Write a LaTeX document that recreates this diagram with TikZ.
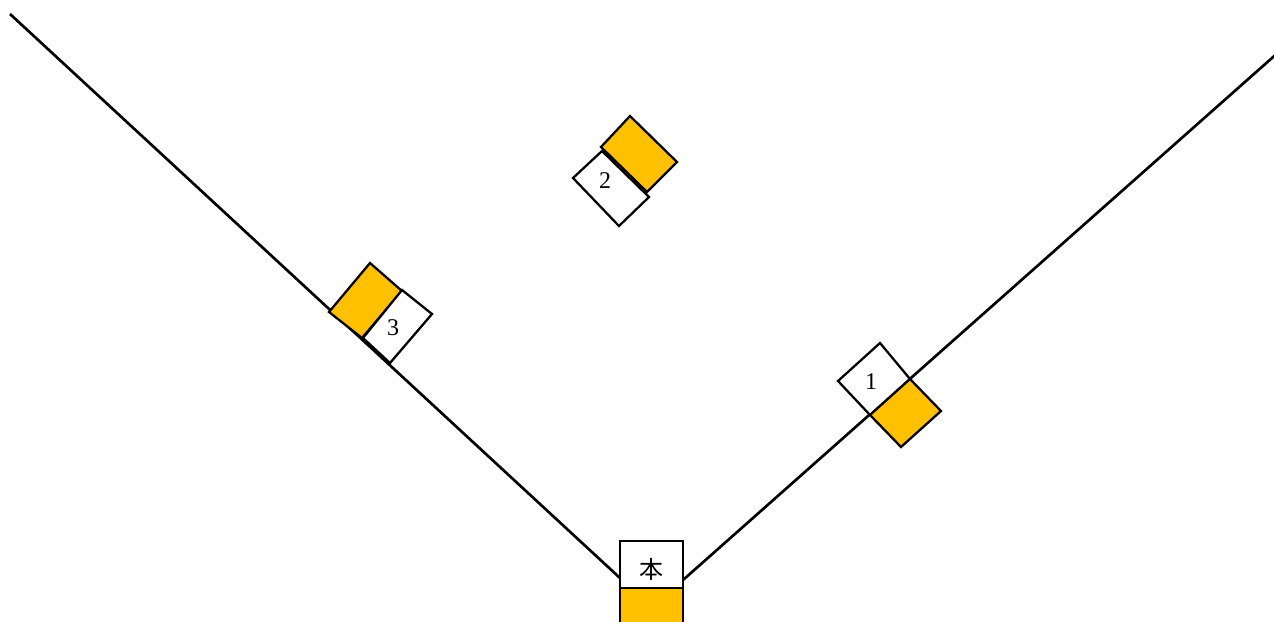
\documentclass[tikz,border=0pt]{standalone}
\usepackage{fontspec}
\setmainfont{Liberation Serif}
\newfontfamily\cjk{Noto Sans CJK JP}
\definecolor{baseorange}{RGB}{255,192,0}
\tikzset{
  outline/.style={draw=black, line width=1.7pt, line join=miter},
  whitepart/.style={outline, fill=white},
  orangepart/.style={outline, fill=baseorange},
  foul/.style={draw=black, line width=2pt},
  lbl/.style={font=\fontsize{18}{18}\selectfont, inner sep=0pt},
}
\begin{document}
\begin{tikzpicture}[x=0.75pt,y=-0.75pt]
\useasboundingbox (0,0) rectangle (1274,621);
\clip (0,0) rectangle (1274,621);
% home plate corners
\coordinate (hl) at (620,578);
\coordinate (hr) at (683,580);
\coordinate (lend) at (10,14);
\coordinate (rend) at (1281,50);
% foul lines
\draw[foul] (lend) -- (hl);
\draw[foul] (hr) -- (rend);
% home plate
\draw[whitepart] (620,541) rectangle (683,588);
\draw[orangepart] (620,588) rectangle (683,640);
\node[lbl, font=\cjk\fontsize{18}{18}\selectfont] (home) at (651.5,569) {本};
% first base
\draw[whitepart] (880,343) -- (910,379) -- (870,415) -- (838,381) -- cycle;
\draw[orangepart] (910,379) -- (941,411) -- (901,447) -- (870,415) -- cycle;
\node[lbl] (b1) at (871,382) {1};
% second base
\draw[whitepart] (602,151) -- (649,197) -- (619,226) -- (573,178) -- cycle;
\draw[orangepart] (630,116) -- (677,162) -- (647,192) -- (601,147) -- cycle;
\node[lbl] (b2) at (605,181) {2};
% third base
\draw[orangepart] (370,263) -- (402,291) -- (362,338) -- (329,312) -- cycle;
\draw[whitepart] (402,290) -- (432,314) -- (390,363) -- (363,338) -- cycle;
\node[lbl] (b3) at (393,328) {3};
\end{tikzpicture}
\end{document}
